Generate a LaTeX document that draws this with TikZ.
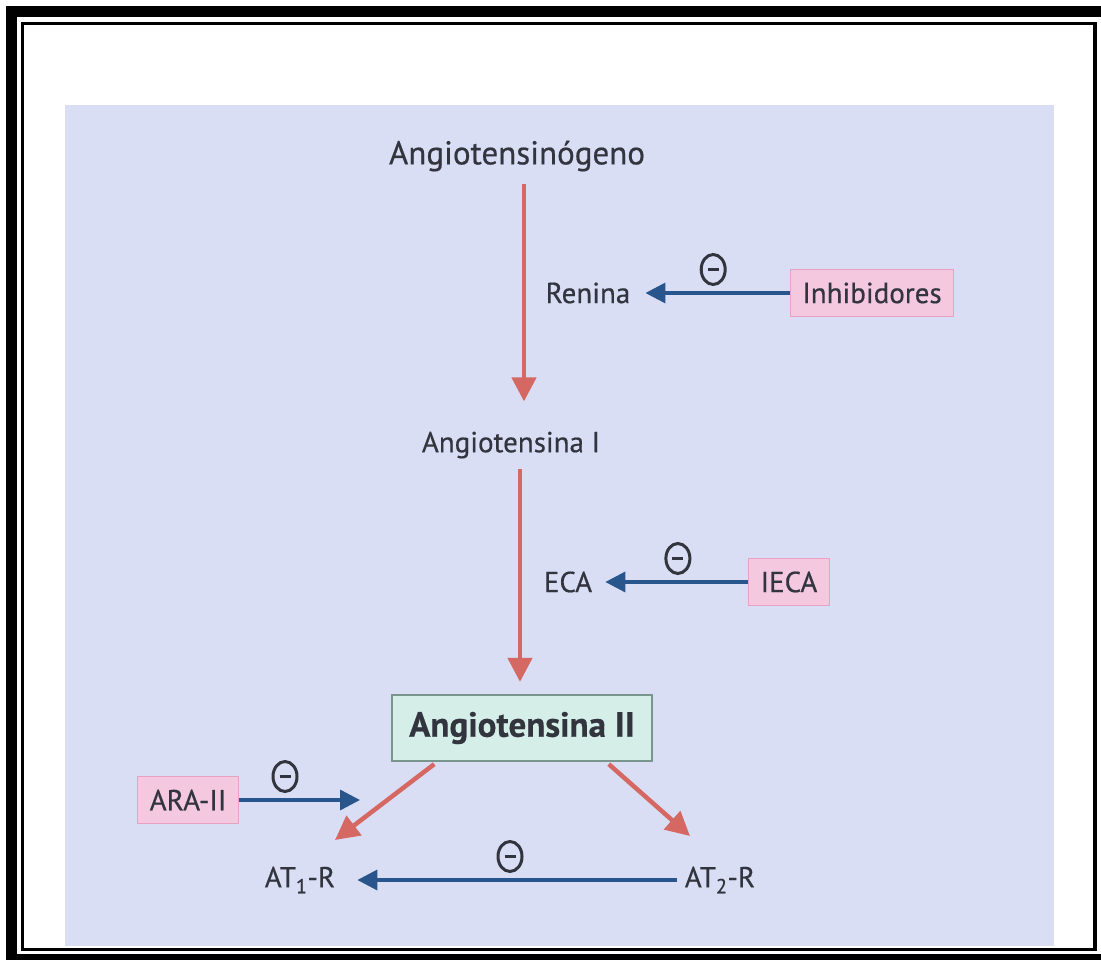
\documentclass[tikz,border=0pt]{standalone}
\usepackage{fontspec}
\setmainfont{PT Sans}[FakeBold=0.5]
\usetikzlibrary{arrows.meta,shapes.geometric}
\definecolor{bgblue}{RGB}{217,222,245}
\definecolor{txtgray}{RGB}{50,52,62}
\definecolor{redarr}{RGB}{214,104,100}
\definecolor{bluearr}{RGB}{40,85,140}
\definecolor{pinkfill}{RGB}{244,200,222}
\definecolor{pinkline}{RGB}{232,160,195}
\definecolor{greenfill}{RGB}{214,238,232}
\definecolor{greenline}{RGB}{120,150,140}
\begin{document}
\begin{tikzpicture}[x=1pt,y=-1pt,
  txt/.style={text=txtgray,font=\fontsize{29}{32}\selectfont,inner sep=0pt},
  pinkbox/.style={txt,fill=pinkfill,draw=pinkline,line width=1.5pt,inner xsep=12pt,inner ysep=13pt},
  greenbox/.style={txt,fill=greenfill,draw=greenline,line width=2pt,inner xsep=17pt,inner ysep=17pt,font=\fontsize{35}{38}\selectfont\bfseries},
  redarrow/.style={draw=redarr,line width=4.5pt,-{Triangle[length=24pt,width=24pt]}},
  bluearrow/.style={draw=bluearr,line width=3.5pt,-{Triangle[length=20pt,width=20pt]}},
  minus/.style={ellipse,draw=txtgray,line width=3pt,minimum width=24pt,minimum height=30pt,inner sep=0pt,text=txtgray,font=\normalsize}
]
\useasboundingbox (0,0) rectangle (1101,960);
\fill[white] (0,0) rectangle (1101,960);
% frame
\draw[line width=11pt] (11.5,12) rectangle (1110,959);
\draw[line width=3.5pt] (22.5,23.5) rectangle (1095,949.5);
\fill[bgblue] (65,105) rectangle (1054,946);

% nodes
\node[txt,font=\fontsize{33}{36}\selectfont] (ang) at (517,156) {Angiotensinógeno};
\node[txt] (ren) at (588,293) {Renina};
\node[pinkbox] (inh) at (872,293) {Inhibidores};
\node[txt] (a1) at (511,445) {Angiotensina I};
\node[txt] (eca) at (568,582) {ECA};
\node[pinkbox] (ieca) at (789,582) {IECA};
\node[greenbox] (a2) at (522,728) {Angiotensina II};
\node[pinkbox] (ara) at (188,800) {ARA-II};
\node[txt] (at1) at (300,880) {AT\textsubscript{1}-R};
\node[txt] (at2) at (720,880) {AT\textsubscript{2}-R};

\coordinate (xr1) at (524,0);
\coordinate (xr2) at (520,0);
\coordinate (araend) at (360,800);
\coordinate (t1) at (335,840);
\coordinate (t2) at (690,836);

% red arrows
\draw[redarrow,shorten <=12pt,shorten >=30pt] (ang.south -| xr1) -- (a1.north -| xr1);
\draw[redarrow,shorten <=10pt,shorten >=12pt] (a1.south -| xr2) -- (a2.north -| xr2);
\draw[redarrow] ([xshift=43pt,yshift=-2pt]a2.south west) -- (t1);
\draw[redarrow] ([xshift=-44pt,yshift=-2pt]a2.south east) -- (t2);

% blue arrows
\draw[bluearrow,shorten >=15pt] (inh.west) -- node[minus,above=7pt,pos=0.48]{\rule{11pt}{2.5pt}} (ren.east);
\draw[bluearrow,shorten >=13pt] (ieca.west) -- node[minus,above=7pt,pos=0.45]{\rule{11pt}{2.5pt}} (eca.east);
\draw[bluearrow] (ara.east) -- node[minus,above=7pt,pos=0.38]{\rule{11pt}{2.5pt}} (araend);
\draw[bluearrow,shorten >=22pt,shorten <=8pt] (at2.west) -- node[minus,above=7pt,pos=0.5]{\rule{11pt}{2.5pt}} (at1.east);
\end{tikzpicture}
\end{document}
